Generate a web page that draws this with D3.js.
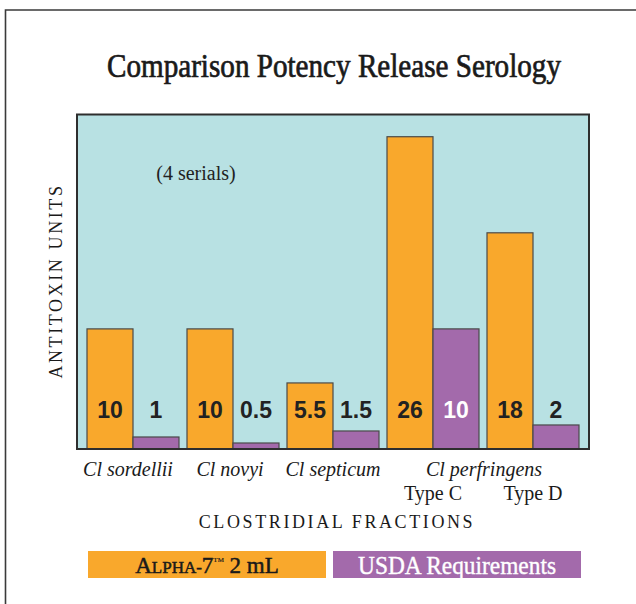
<!DOCTYPE html>
<html>
<head>
<meta charset="utf-8">
<script src="https://cdn.jsdelivr.net/npm/d3@7"></script>
<style>
  body { margin: 0; background: #fff; }
  svg { display: block; }
</style>
</head>
<body>
<svg id="chart"></svg>
<script>
const categories = ["sordellii", "novyi", "septicum", "perfringensC", "perfringensD"];
const alpha7 = [10, 10, 5.5, 26, 18];
const usda = [1, 0.5, 1.5, 10, 2];
const alphaLabels = ["10", "10", "5.5", "26", "18"];
const usdaLabels = ["1", "0.5", "1.5", "10", "2"];
const seriesNames = ["ALPHA-7", "USDA Requirements"];

const width = 636;
const height = 604;
const plot = { left: 77, right: 589, top: 114.5, bottom: 449 };

const svg = d3.select("#chart")
    .attr("width", width)
    .attr("height", height);

// outer frame (left + top only)
svg.append("path")
    .attr("d", `M${width},10 H5.5 V${height}`)
    .attr("fill", "none")
    .attr("stroke", "#3a3a3a")
    .attr("stroke-width", 1.6);

// title
svg.append("text")
    .attr("x", 334)
    .attr("y", 77)
    .attr("text-anchor", "middle")
    .attr("font-family", "Liberation Serif")
    .attr("font-size", 33)
    .attr("stroke", "#1a1a1a")
    .attr("stroke-width", 0.7)
    .attr("textLength", 454)
    .attr("lengthAdjust", "spacingAndGlyphs")
    .attr("fill", "#1a1a1a")
    .text("Comparison Potency Release Serology");

const x0 = d3.scaleBand()
    .domain(categories)
    .range([plot.left, plot.right])
    .paddingInner(0.08)
    .paddingOuter(0.1);

const x1 = d3.scaleBand()
    .domain(seriesNames)
    .range([0, x0.bandwidth()]);

const y = d3.scaleLinear()
    .domain([0, 27.85])
    .range([plot.bottom, plot.top]);

// plot background
svg.append("rect")
    .attr("x", plot.left)
    .attr("y", plot.top)
    .attr("width", plot.right - plot.left)
    .attr("height", plot.bottom - plot.top)
    .attr("fill", "#b8e1e3");

svg.append("text")
    .attr("x", 196)
    .attr("y", 180)
    .attr("text-anchor", "middle")
    .attr("font-family", "Liberation Serif")
    .attr("font-size", 20)
    .attr("fill", "#222")
    .text("(4 serials)");

const colors = { "ALPHA-7": "#f9a82c", "USDA Requirements": "#a36aab" };

const rows = categories.map((c, i) => ({
    cat: c,
    vals: [
        { s: seriesNames[0], v: alpha7[i], label: alphaLabels[i] },
        { s: seriesNames[1], v: usda[i], label: usdaLabels[i] }
    ]
}));

const groups = svg.append("g").selectAll("g")
    .data(rows)
    .enter().append("g")
    .attr("transform", d => `translate(${x0(d.cat)},0)`);

groups.selectAll("rect")
    .data(d => d.vals)
    .enter().append("rect")
    .attr("x", d => x1(d.s))
    .attr("y", d => y(d.v))
    .attr("width", x1.bandwidth())
    .attr("height", d => y(0) - y(d.v))
    .attr("fill", d => colors[d.s])
    .attr("stroke", "#4a4a4a")
    .attr("stroke-width", 1.2);

groups.selectAll("text")
    .data(d => d.vals)
    .enter().append("text")
    .attr("x", d => x1(d.s) + x1.bandwidth() / 2)
    .attr("y", 418)
    .attr("text-anchor", "middle")
    .attr("font-family", "Liberation Sans")
    .attr("font-weight", "bold")
    .attr("font-size", 23)
    .attr("fill", d => (d.s === seriesNames[1] && y(d.v) < 400) ? "#fff" : "#222")
    .text(d => d.label);

// plot border
svg.append("rect")
    .attr("x", plot.left)
    .attr("y", plot.top)
    .attr("width", plot.right - plot.left)
    .attr("height", plot.bottom - plot.top)
    .attr("fill", "none")
    .attr("stroke", "#2e2e2e")
    .attr("stroke-width", 2);

// category labels
const mid = c => x0(c) + x0.bandwidth() / 2;
const catText = [
    { t: "Cl sordellii", x: mid("sordellii") - 5, y: 476 },
    { t: "Cl novyi", x: mid("novyi") - 3, y: 476 },
    { t: "Cl septicum", x: mid("septicum"), y: 476 },
    { t: "Cl perfringens", x: (mid("perfringensC") + mid("perfringensD")) / 2 + 1, y: 476 }
];
svg.append("g").selectAll("text")
    .data(catText)
    .enter().append("text")
    .attr("x", d => d.x)
    .attr("y", d => d.y)
    .attr("text-anchor", "middle")
    .attr("font-family", "Liberation Serif")
    .attr("font-style", "italic")
    .attr("font-size", 20)
    .attr("fill", "#1a1a1a")
    .text(d => d.t);

const typeText = [
    { t: "Type C", c: "perfringensC" },
    { t: "Type D", c: "perfringensD" }
];
svg.append("g").selectAll("text")
    .data(typeText)
    .enter().append("text")
    .attr("x", d => mid(d.c))
    .attr("y", 500)
    .attr("text-anchor", "middle")
    .attr("font-family", "Liberation Serif")
    .attr("font-size", 20)
    .attr("fill", "#1a1a1a")
    .text(d => d.t);

// axis titles
svg.append("text")
    .attr("x", 337)
    .attr("y", 528)
    .attr("text-anchor", "middle")
    .attr("font-family", "Liberation Serif")
    .attr("font-size", 18)
    .attr("letter-spacing", 2.6)
    .attr("fill", "#1a1a1a")
    .text("CLOSTRIDIAL FRACTIONS");

svg.append("text")
    .attr("transform", "translate(62,281) rotate(-90)")
    .attr("text-anchor", "middle")
    .attr("font-family", "Liberation Serif")
    .attr("font-size", 18)
    .attr("letter-spacing", 2.6)
    .attr("fill", "#1a1a1a")
    .text("ANTITOXIN UNITS");

// legend
const legend = svg.append("g");
legend.append("rect")
    .attr("x", 88).attr("y", 551)
    .attr("width", 238).attr("height", 27)
    .attr("fill", colors[seriesNames[0]]);
legend.append("rect")
    .attr("x", 333).attr("y", 551)
    .attr("width", 248).attr("height", 27)
    .attr("fill", colors[seriesNames[1]]);

const lt = legend.append("text")
    .attr("x", 207)
    .attr("y", 573)
    .attr("text-anchor", "middle")
    .attr("font-family", "Liberation Serif")
    .attr("stroke", "#1a1a1a")
    .attr("stroke-width", 0.5)
    .attr("fill", "#1a1a1a");
lt.append("tspan").attr("font-size", 23).text("A");
lt.append("tspan").attr("font-size", 17).text("LPHA-");
lt.append("tspan").attr("font-size", 23).text("7");
lt.append("tspan").attr("font-size", 7).attr("stroke-width", 0.2).attr("dy", -11).text("TM");
lt.append("tspan").attr("font-size", 23).attr("dy", 11).text("  2 mL");

legend.append("text")
    .attr("x", 457)
    .attr("y", 574)
    .attr("text-anchor", "middle")
    .attr("font-family", "Liberation Serif")
    .attr("font-size", 25)
    .attr("stroke", "#fff")
    .attr("stroke-width", 0.4)
    .attr("textLength", 198)
    .attr("lengthAdjust", "spacingAndGlyphs")
    .attr("fill", "#fff")
    .text(seriesNames[1]);
</script>
</body>
</html>
